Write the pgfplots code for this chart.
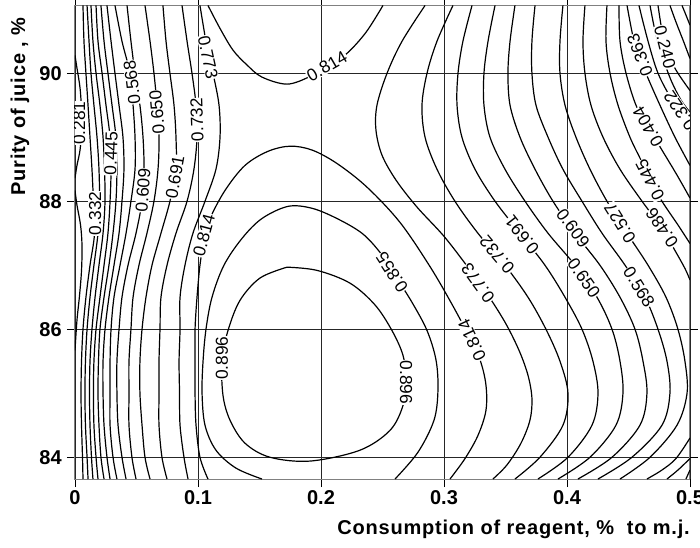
\documentclass[border=0pt]{standalone}
\usepackage{fontspec}
\setmainfont{Liberation Sans}
\usepackage{pgfplots}
\pgfplotsset{compat=1.18}

\begin{document}
\begin{tikzpicture}[
  lab/.style={font=\fontsize{13}{13}\selectfont, fill=white, inner sep=0.4pt},
  cl/.style={black, line width=0.9pt, smooth, tension=0.55, no marks},
]
\path[use as bounding box] (-56.25pt,-51pt) rectangle (468.75pt,359.25pt);
\begin{axis}[
  at={(0,0)}, anchor=south west,
  scale only axis, width=461.25pt, height=355.2pt,
  xmin=0, xmax=0.5, ymin=83.66, ymax=91.06,
  xtick={0,0.1,0.2,0.3,0.4,0.5},
  xticklabels={0,0.1,0.2,0.3,0.4,0.5},
  ytick={84,86,88,90},
  yticklabels={84,86,88,90},
  grid=major,
  major grid style={black!85, line width=0.6pt},
  tick align=outside, major tick length=6pt,
  tick style={black, line width=0.6pt},
  axis line style={black!50, line width=0.75pt},
  /pgf/number format/assume math mode=true,
  ticklabel style={font=\bfseries\fontsize{15}{15}\selectfont},
  xticklabel style={inner sep=0pt, anchor=north, yshift=-2.25pt},
  yticklabel style={inner sep=0pt, anchor=east, xshift=-3.75pt},
  xlabel={Consumption of reagent, \%\ \ to m.j.},
  xlabel style={at={(rel axis cs:1,0)}, anchor=base east, inner sep=0pt, yshift=-41.25pt,
    font=\bfseries\fontsize{15}{15}\selectfont\addfontfeature{LetterSpace=4}},
  ylabel={Purity of juice , \%},
  ylabel style={at={(rel axis cs:-0.0813,0.786)}, anchor=base, rotate=0, inner sep=0pt,
    font=\bfseries\fontsize{15}{15}\selectfont\addfontfeature{LetterSpace=4}},
]

% ---- left flank: steep rise from the x = 0 edge ----
\addplot[cl] coordinates {(0,90.28)(0.0016,90.08)(0.0041,89.77)(0.0053,89.42)(0.0053,89.11)(0.0041,88.80)(0.0016,88.56)(0,88.36)};
\addplot[cl] coordinates {(0,88.17)(0.0016,87.94)(0.0045,87.63)(0.0057,87.31)(0.0053,86.92)(0.0037,86.53)(0.0016,86.14)(0,85.67)};
\addplot[cl] coordinates {(.0065,91.06)(.0073,90.5)(.0089,90)(.0106,89.5)(.0122,89)(.0138,88.5)(.0150,88)(.0159,87.5)(.0122,87)(.0089,86.5)(.0065,86)(.0053,85.5)(.0049,85)(.0053,84.5)(.0061,84)(.0065,83.66)};
\addplot[cl] coordinates {(.0098,91.06)(.0114,90.5)(.0130,90)(.0154,89.5)(.0179,89)(.0195,88.5)(.0199,88)(.0187,87.5)(.0154,87)(.0122,86.5)(.0098,86)(.0085,85.5)(.0081,85)(.0085,84.5)(.0098,84)(.0106,83.66)};
\addplot[cl] coordinates {(.0130,91.06)(.0146,90.5)(.0171,90)(.0203,89.5)(.0228,89)(.0240,88.5)(.0244,88)(.0228,87.5)(.0195,87)(.0163,86.5)(.0138,86)(.0122,85.5)(.0118,85)(.0122,84.5)(.0134,84)(.0146,83.66)};
\addplot[cl] coordinates {(.0171,91.06)(.0187,90.5)(.0220,90)(.0252,89.5)(.0285,89)(.0293,88.5)(.0285,88)(.0268,87.5)(.0236,87)(.0203,86.5)(.0171,86)(.0154,85.5)(.0150,85)(.0154,84.5)(.0171,84)(.0187,83.66)};
\addplot[cl] coordinates {(.0211,91.06)(.0236,90.5)(.0268,90)(.0301,89.5)(.0333,89)(.0341,88.5)(.0333,88)(.0309,87.5)(.0276,87)(.0236,86.5)(.0203,86)(.0191,85.5)(.0187,85)(.0195,84.5)(.0211,84)(.0236,83.66)};
\addplot[cl] coordinates {(.0260,91.06)(.0293,90.5)(.0325,90)(.0358,89.5)(.0390,89)(.0398,88.5)(.0382,88)(.0358,87.5)(.0317,87)(.0276,86.5)(.0244,86)(.0228,85.5)(.0228,85)(.0236,84.5)(.0260,84)(.0285,83.66)};
\addplot[cl] coordinates {(.0325,91.06)(.0382,90.5)(.0447,90)(.0472,89.5)(.0488,89)(.0488,88.5)(.0455,88)(.0415,87.5)(.0366,87)(.0317,86.5)(.0293,86)(.0285,85.5)(.0285,85)(.0285,84.5)(.0309,84)(.0341,83.66)};
\addplot[cl] coordinates {(.0423,91.06)(.0455,90.5)(.0488,90)(.0528,89.5)(.0553,89)(.0561,88.5)(.0545,88)(.0496,87.5)(.0431,87)(.0382,86.5)(.0358,86)(.0341,85.5)(.0341,85)(.0350,84.5)(.0382,84)(.0415,83.66)};
\addplot[cl] coordinates {(.0569,91.06)(.0610,90.5)(.0642,90)(.0667,89.5)(.0683,89)(.0675,88.5)(.0642,88)(.0585,87.5)(.0520,87)(.0472,86.5)(.0455,86)(.0439,85.5)(.0439,85)(.0439,84.5)(.0463,84)(.0496,83.66)};
\addplot[cl] coordinates {(.0715,91.06)(.0740,90.5)(.0772,90)(.0805,89.5)(.0821,89)(.0821,88.5)(.0772,88)(.0699,87.5)(.0626,87)(.0577,86.5)(.0545,86)(.0528,85.5)(.0528,85)(.0545,84.5)(.0569,84)(.0610,83.66)};
\addplot[cl] coordinates {(.0870,91.06)(.0911,90.5)(.0951,90)(.0984,89.5)(.0992,89)(.0967,88.5)(.0911,88)(.0821,87.5)(.0748,87)(.0699,86.5)(.0691,86)(.0683,85.5)(.0683,85)(.0683,84.5)(.0707,84)(.0748,83.66)};
\addplot[cl] coordinates {(.1016,91.06)(.1065,90.5)(.1122,90)(.1171,89.5)(.1179,89)(.1146,88.5)(.1057,88)(.0959,87.5)(.0894,87)(.0854,86.5)(.0854,86)(.0846,85.5)(.0850,85)(.0854,84.5)(.0886,84)(.0919,83.66)};

% ---- centre: ridge, saddle and maximum ----
\addplot[cl] coordinates {(.1081,91.06)(.1179,90.70)(.1285,90.36)(.1398,90.13)(.1520,89.94)(.1724,89.83)(.1911,89.95)(.2073,90.14)(.2211,90.31)(.2366,90.64)(.2504,91.06)};
\addplot[cl] coordinates {(.1081,83.66)(.1016,84.0)(.0984,84.5)(.0976,85.0)(.0976,85.5)(.0976,86.0)(.0992,86.5)(.1016,87.0)(.1049,87.39)(.1098,87.73)(.1220,88.17)(.1382,88.56)(.1569,88.78)(.1748,88.86)(.1927,88.80)(.2130,88.59)(.2374,88.22)(.2642,87.67)(.2886,86.98)(.3065,86.39)(.3195,85.92)(.3293,85.52)(.3341,85.13)(.3341,84.73)(.3276,84.34)(.3171,83.98)(.3049,83.66)};
\addplot[cl] coordinates {(.1520,83.66)(.1309,83.83)(.1146,84.11)(.1057,84.5)(.1033,85.0)(.1041,85.5)(.1065,86.0)(.1114,86.5)(.1211,87.0)(.1358,87.42)(.1520,87.73)(.1732,87.92)(.1927,87.89)(.2130,87.73)(.2333,87.5)(.2480,87.20)(.2602,86.84)(.2740,86.42)(.2862,85.98)(.2935,85.52)(.2951,85.05)(.2919,84.58)(.2789,84.08)(.2602,83.66)};
\addplot[cl] coordinates {(.1724,86.97)(.1967,86.92)(.2236,86.72)(.2439,86.38)(.2577,85.98)(.2667,85.59)(.2691,85.20)(.2667,84.81)(.2561,84.42)(.2317,84.11)(.1911,83.94)(.1585,84.0)(.1382,84.22)(.1260,84.58)(.1203,84.97)(.1195,85.52)(.1244,85.98)(.1341,86.45)(.1504,86.80)(.1724,86.97)};

% ---- right flank ----
\addplot[cl] coordinates {(.2846,91.06)(.2659,90.5)(.2537,90.0)(.2455,89.5)(.2447,89.11)(.2496,88.72)(.2610,88.33)(.2780,87.91)(.2992,87.47)(.3163,87.05)(.3341,86.58)(.3496,86.11)(.3610,85.67)(.3683,85.28)(.3715,84.92)(.3699,84.58)(.3626,84.22)(.3512,83.88)(.3398,83.66)};
\addplot[cl] coordinates {(.3073,91.06)(.2943,90.5)(.2862,90)(.2821,89.5)(.2846,89)(.2943,88.5)(.3089,88)(.3276,87.5)(.3496,87)(.3683,86.5)(.3829,86)(.3943,85.5)(.4008,85)(.3967,84.5)(.3780,84)(.3577,83.66)};
\addplot[cl] coordinates {(.3228,91.06)(.3154,90.5)(.3114,90)(.3106,89.5)(.3146,89)(.3252,88.5)(.3415,88)(.3618,87.5)(.3821,87)(.3984,86.5)(.4122,86)(.4211,85.5)(.4252,85)(.4203,84.5)(.4008,84)(.3764,83.66)};
\addplot[cl] coordinates {(.3415,91.06)(.3358,90.5)(.3325,90)(.3325,89.5)(.3374,89)(.3496,88.5)(.3659,88)(.3846,87.5)(.4065,87)(.4244,86.5)(.4366,86)(.4431,85.5)(.4455,85)(.4398,84.5)(.4187,84)(.3927,83.66)};
\addplot[cl] coordinates {(.3577,91.06)(.3537,90.5)(.3520,90)(.3537,89.5)(.3618,89)(.3740,88.5)(.3886,88)(.4065,87.5)(.4268,87)(.4431,86.5)(.4553,86)(.4618,85.5)(.4650,85)(.4593,84.5)(.4366,84)(.4089,83.66)};
\addplot[cl] coordinates {(.3740,91.06)(.3715,90.5)(.3715,90)(.3748,89.5)(.3846,89)(.3967,88.5)(.4122,88)(.4285,87.5)(.4472,87)(.4634,86.5)(.4740,86)(.4813,85.5)(.4837,85)(.4772,84.5)(.4528,84)(.4252,83.66)};
\addplot[cl] coordinates {(.3967,91.06)(.3943,90.5)(.3943,90)(.3984,89.5)(.4073,89)(.4187,88.5)(.4325,88)(.4488,87.5)(.4659,87)(.4805,86.5)(.4902,86)(.4959,85.5)(.4976,85)(.4894,84.5)(.4675,84)(.4431,83.66)};
\addplot[cl] coordinates {(.4146,91.06)(.4130,90.5)(.4146,90)(.4195,89.5)(.4293,89)(.4431,88.5)(.4610,88)(.4772,87.58)(.4878,87.23)(.4959,86.95)(.5,86.77)};
\addplot[cl] coordinates {(.5,84.30)(.4886,83.98)(.4772,83.80)(.4650,83.66)};
\addplot[cl] coordinates {(.4325,91.06)(.4317,90.5)(.4350,90)(.4415,89.5)(.4512,89)(.4602,88.64)(.4675,88.33)(.4772,88)(.4902,87.63)(.5,87.34)};
\addplot[cl] coordinates {(.5,83.98)(.4902,83.80)(.4813,83.66)};
\addplot[cl] coordinates {(.4423,91.06)(.4431,90.5)(.4480,90)(.4561,89.5)(.4659,89.16)(.4772,88.80)(.4894,88.41)(.5,88.05)};
\addplot[cl] coordinates {(.5,83.80)(.4967,83.66)};
\addplot[cl] coordinates {(.4488,91.06)(.4545,90.5)(.4593,90.28)(.4642,90)(.4756,89.5)(.4878,89)(.5,88.56)};
\addplot[cl] coordinates {(.4585,91.06)(.4659,90.5)(.4740,90)(.4854,89.58)(.4951,89.30)(.5,89.14)};
\addplot[cl] coordinates {(.4675,91.06)(.4715,90.67)(.4772,90.28)(.4846,89.89)(.4927,89.58)(.5,89.39)};
\addplot[cl] coordinates {(.4740,91.06)(.4772,90.67)(.4813,90.36)(.4886,90.05)(.5,89.73)};
\addplot[cl] coordinates {(.4837,91.06)(.4886,90.80)(.4943,90.52)(.5,90.23)};
\addplot[cl] coordinates {(.4935,91.06)(.4967,90.91)(.5,90.75)};

% ---- level labels ----
\node[lab, rotate=90]  at (axis cs:.0033,89.22) {0.281};
\node[lab, rotate=90]  at (axis cs:.0163,87.81) {0.332};
\node[lab, rotate=88]  at (axis cs:.0293,88.75) {0.445};
\node[lab, rotate=97]  at (axis cs:.0463,89.86) {0.568};
\node[lab, rotate=95]  at (axis cs:.0667,89.39) {0.650};
\node[lab, rotate=86]  at (axis cs:.0553,88.17) {0.609};
\node[lab, rotate=80]  at (axis cs:.0813,88.38) {0.691};
\node[lab, rotate=92]  at (axis cs:.0992,89.27) {0.732};
\node[lab, rotate=-78] at (axis cs:.1081,90.25) {0.773};
\node[lab, rotate=75]  at (axis cs:.1049,87.47) {0.814};
\node[lab, rotate=30]  at (axis cs:.2049,90.11) {0.814};
\node[lab, rotate=90]  at (axis cs:.1195,85.55) {0.896};
\node[lab, rotate=-90] at (axis cs:.2691,85.17) {0.896};
\node[lab, rotate=123] at (axis cs:.2577,86.89) {0.855};
\node[lab, rotate=115] at (axis cs:.3228,85.83) {0.814};
\node[lab, rotate=126] at (axis cs:.3276,86.72) {0.773};
\node[lab, rotate=130] at (axis cs:.3431,87.16) {0.732};
\node[lab, rotate=128] at (axis cs:.3634,87.47) {0.691};
\node[lab, rotate=-55] at (axis cs:.4138,86.80) {0.650};
\node[lab, rotate=-54] at (axis cs:.4049,87.58) {0.609};
\node[lab, rotate=-58] at (axis cs:.4585,86.66) {0.568};
\node[lab, rotate=122] at (axis cs:.4431,87.66) {0.527};
\node[lab, rotate=124] at (axis cs:.4772,87.58) {0.486};
\node[lab, rotate=117] at (axis cs:.4675,88.33) {0.445};
\node[lab, rotate=120] at (axis cs:.4659,89.16) {0.404};
\node[lab, rotate=111] at (axis cs:.4593,90.28) {0.363};
\node[lab, rotate=124] at (axis cs:.4919,89.42) {0.322};
\node[lab, rotate=-76] at (axis cs:.4797,90.41) {0.240};
\end{axis}
\end{tikzpicture}
\end{document}
